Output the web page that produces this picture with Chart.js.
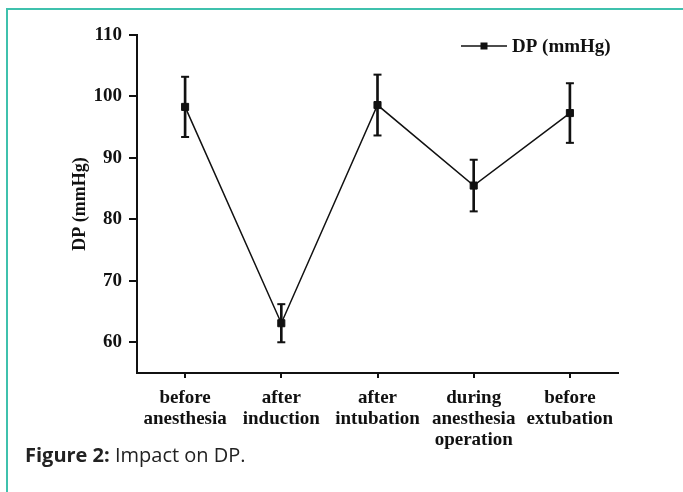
<!DOCTYPE html>
<html>
<head>
<meta charset="utf-8">
<script src="https://cdn.jsdelivr.net/npm/chart.js@4.4.1/dist/chart.umd.min.js"></script>
<style>
  html, body { margin: 0; padding: 0; background: #fff; overflow: hidden; }
  body { width: 683px; height: 492px; position: relative; }
  #frame {
    position: absolute; left: 6px; top: 8px; width: 720px; height: 520px;
    border: 2px solid #3fc1ad;
  }
  #chartDP { position: absolute; left: 0; top: 0; }
  #caption {
    position: absolute; left: 25px; top: 441px;
    font-family: "Open Sans", sans-serif; font-size: 20px; color: #222;
  }
</style>
</head>
<body>
<div id="frame"></div>
<canvas id="chartDP" width="683" height="460"></canvas>
<div id="caption"><b>Figure 2:</b> Impact on DP.</div>
<script>
const categories = [
    ['before', 'anesthesia'],
    ['after', 'induction'],
    ['after', 'intubation'],
    ['during', 'anesthesia', 'operation'],
    ['before', 'extubation']
]
const seriesName = 'DP (mmHg)'
const dpMean = [98.3, 63.1, 98.6, 85.5, 97.3]
const dpSd = [4.9, 3.1, 4.95, 4.2, 4.85]
const yTicks = [60, 70, 80, 90, 100, 110]

const serif = '"Liberation Serif", "Times New Roman", serif'
const ink = '#111'

// error bar pieces built from the mean / sd arrays
const errRange = dpMean.map((m, i) => [m - dpSd[i], m + dpSd[i]])
const errTop = dpMean.map((m, i) => m + dpSd[i])
const errLow = dpMean.map((m, i) => m - dpSd[i])

// legend in the top-right corner of the plot area
const cornerLegend = {
    id: 'cornerLegend',
    afterDraw(chart) {
        const { ctx, chartArea } = chart
        const y = chartArea.top + 11
        const x0 = chartArea.right - 157
        ctx.save()
        ctx.strokeStyle = ink
        ctx.lineWidth = 1.5
        ctx.beginPath()
        ctx.moveTo(x0, y)
        ctx.lineTo(x0 + 46, y)
        ctx.stroke()
        ctx.fillStyle = ink
        ctx.fillRect(x0 + 23 - 3.5, y - 3.5, 7, 7)
        ctx.font = 'bold 19px ' + serif
        ctx.textBaseline = 'middle'
        ctx.textAlign = 'left'
        ctx.fillText(seriesName, x0 + 51, y + 1)
        ctx.restore()
    }
}

const ctx = document.getElementById('chartDP').getContext('2d')

const chart = new Chart(ctx, {
    data: {
        labels: categories,
        datasets: [
            {
                type: 'line',
                label: seriesName,
                data: dpMean,
                borderColor: ink,
                borderWidth: 1.5,
                pointStyle: 'rect',
                pointRadius: 5,
                pointBackgroundColor: ink,
                pointBorderColor: ink,
                pointBorderWidth: 1,
                fill: false,
                order: 0
            },
            {
                type: 'bar',
                label: 'sd',
                data: errRange,
                backgroundColor: ink,
                borderWidth: 0,
                barThickness: 2,
                order: 2
            },
            {
                type: 'line',
                label: 'sd top',
                data: errTop,
                showLine: false,
                pointStyle: 'line',
                pointRadius: 4,
                pointBorderWidth: 2,
                pointBorderColor: ink,
                order: 1
            },
            {
                type: 'line',
                label: 'sd low',
                data: errLow,
                showLine: false,
                pointStyle: 'line',
                pointRadius: 4,
                pointBorderWidth: 2,
                pointBorderColor: ink,
                order: 1
            }
        ]
    },
    options: {
        responsive: false,
        animation: false,
        layout: { padding: { left: 0, top: 35, right: 65, bottom: 0 } },
        plugins: {
            legend: { display: false },
            tooltip: { enabled: false }
        },
        scales: {
            x: {
                type: 'category',
                offset: true,
                grid: {
                    display: true,
                    drawOnChartArea: false,
                    drawTicks: true,
                    tickLength: 5,
                    lineWidth: 2,
                    color: ink,
                    offset: false
                },
                border: { display: true, color: ink, width: 2 },
                ticks: {
                    color: ink,
                    padding: 9,
                    maxRotation: 0,
                    autoSkip: false,
                    font: { family: serif, size: 19, weight: 'bold', lineHeight: 1.12 }
                },
                afterFit(scale) { scale.height = 87 }
            },
            y: {
                min: 55,
                max: 110,
                grid: {
                    display: true,
                    drawOnChartArea: false,
                    drawTicks: true,
                    tickLength: 8,
                    lineWidth: 2,
                    color: ink
                },
                border: { display: true, color: ink, width: 2 },
                ticks: {
                    color: ink,
                    padding: 7,
                    font: { family: serif, size: 19, weight: 'bold' }
                },
                afterBuildTicks(axis) {
                    axis.ticks = yTicks.map(v => ({ value: v }))
                },
                title: {
                    display: true,
                    text: seriesName,
                    color: ink,
                    padding: { top: 70, bottom: 0 },
                    font: { family: serif, size: 18, weight: 'bold' }
                },
                afterFit(scale) { scale.width = 137 }
            }
        }
    },
    plugins: [cornerLegend]
})
</script>
</body>
</html>
